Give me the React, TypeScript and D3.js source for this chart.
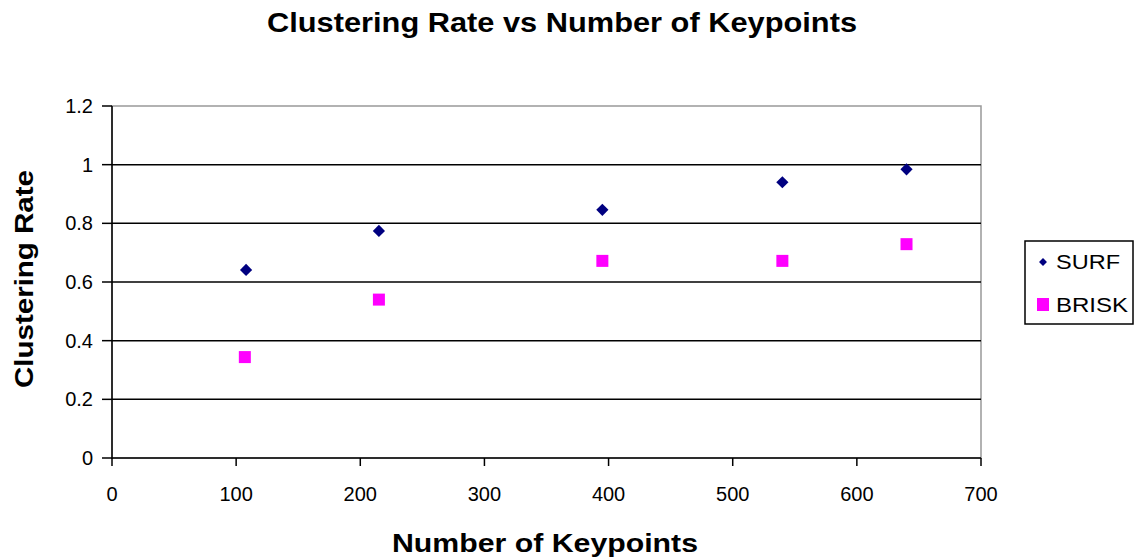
import React from "react";
import * as d3 from "d3";

const surfX = [108, 215, 395, 540, 640];
const surfY = [0.641, 0.774, 0.846, 0.94, 0.984];
const briskX = [107, 215, 395, 540, 640];
const briskY = [0.344, 0.54, 0.672, 0.672, 0.729];
const xTicks = [0, 100, 200, 300, 400, 500, 600, 700];
const yTicks = [0, 0.2, 0.4, 0.6, 0.8, 1, 1.2];

const W = 1135, H = 559;
const L = 112, R = 981, T = 106, B = 458;
const font = "'Liberation Sans', Arial, sans-serif";

export default function App() {
  const x = d3.scaleLinear().domain([0, 700]).range([L, R]);
  const y = d3.scaleLinear().domain([0, 1.2]).range([B, T]);
  const diamond = d3.symbol().type(d3.symbolDiamond2).size(95)();
  return (
    <svg width={W} height={H} style={{ position: "absolute", left: 0, top: 0 }} fontFamily={font}>
      <rect width={W} height={H} fill="#fff" />
      <text x={267} y={32} fontSize={27} fontWeight="bold" fill="#000" textLength={590} lengthAdjust="spacingAndGlyphs">Clustering Rate vs Number of Keypoints</text>
      <rect x={L} y={T} width={R - L} height={B - T} fill="none" stroke="#999" strokeWidth={1.5} />
      {yTicks.map((t) => (
        <g key={t}>
          {t > 0 && t < 1.2 && <line x1={L} x2={R} y1={y(t)} y2={y(t)} stroke="#000" strokeWidth={1.5} />}
          <line x1={L - 10} x2={L} y1={y(t)} y2={y(t)} stroke="#000" strokeWidth={1.5} />
          <text x={L - 19} y={y(t) + 7} textAnchor="end" fontSize={20} fill="#000">{t}</text>
        </g>
      ))}
      <line x1={L} x2={L} y1={T} y2={B + 1} stroke="#000" strokeWidth={1.5} />
      <line x1={L} x2={R} y1={B} y2={B} stroke="#000" strokeWidth={1.5} />
      {xTicks.map((t) => (
        <g key={t}>
          <line x1={x(t)} x2={x(t)} y1={B} y2={B + 8} stroke="#000" strokeWidth={1.5} />
          <text x={x(t)} y={B + 43} textAnchor="middle" fontSize={20} fill="#000">{t}</text>
        </g>
      ))}
      <text x={392} y={552} fontSize={26} fontWeight="bold" fill="#000" textLength={306} lengthAdjust="spacingAndGlyphs">Number of Keypoints</text>
      <text transform={`translate(33,388) rotate(-90)`} fontSize={26} fontWeight="bold" fill="#000" textLength={218} lengthAdjust="spacingAndGlyphs">Clustering Rate</text>
      {surfX.map((v, i) => (
        <path key={"s" + i} d={diamond!} transform={`translate(${x(v)},${y(surfY[i])})`} fill="#000080" />
      ))}
      {briskX.map((v, i) => (
        <rect key={"b" + i} x={x(v) - 6} y={y(briskY[i]) - 6} width={12} height={12} fill="#ff00ff" />
      ))}
      <rect x={1025} y={241} width={108} height={83} fill="#fff" stroke="#000" strokeWidth={1.5} />
      <path d={d3.symbol().type(d3.symbolDiamond2).size(40)()!} transform="translate(1043,262)" fill="#000080" />
      <text x={1056} y={269} fontSize={21} fill="#000" textLength={64} lengthAdjust="spacingAndGlyphs">SURF</text>
      <rect x={1037} y={298} width={12} height={13} fill="#ff00ff" />
      <text x={1056} y={312} fontSize={21} fill="#000" textLength={72} lengthAdjust="spacingAndGlyphs">BRISK</text>
    </svg>
  );
}
